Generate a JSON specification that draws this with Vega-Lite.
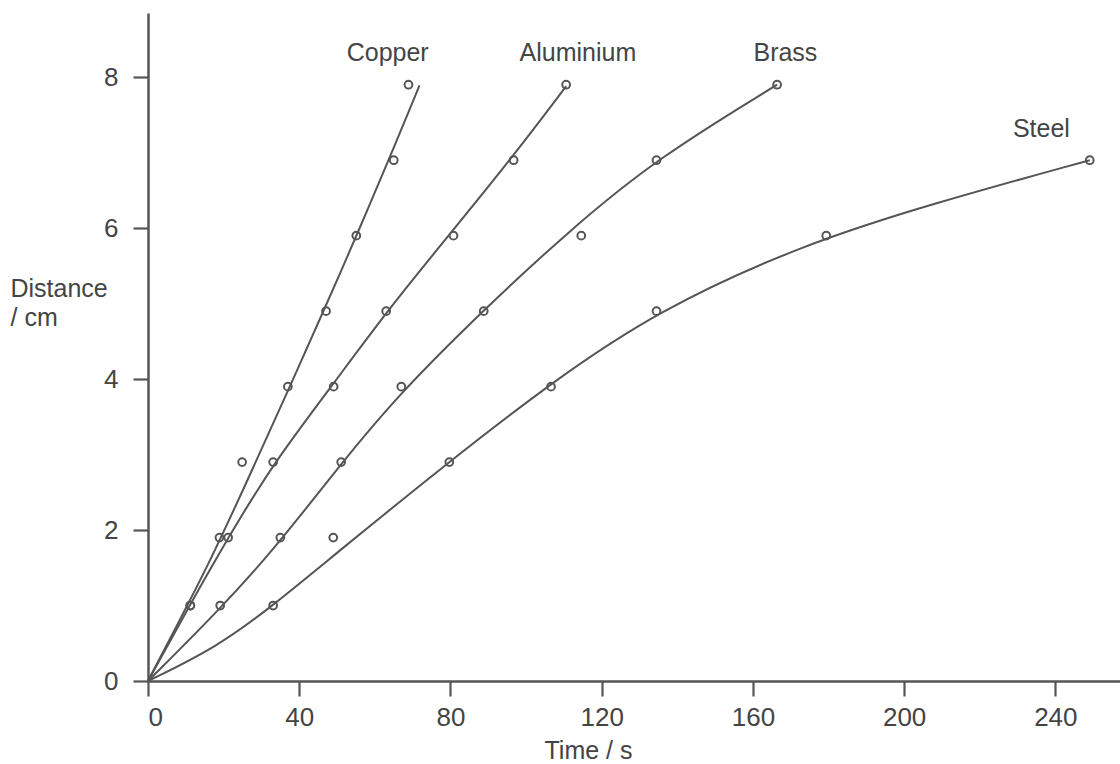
{
  "$schema": "https://vega.github.io/schema/vega-lite/v6.json",
  "width": 972,
  "height": 668,
  "autosize": {"type": "none"},
  "padding": {"left": 148, "top": 13, "right": 0, "bottom": 83},
  "background": "white",
  "config": {
    "view": {"stroke": null},
    "font": "Liberation Sans",
    "axis": {
      "grid": false,
      "domainColor": "#555555",
      "domainWidth": 2.5,
      "tickColor": "#555555",
      "tickWidth": 2.2,
      "tickSize": 15,
      "labelColor": "#444444",
      "labelFont": "Liberation Sans",
      "labelFontSize": 26,
      "titleColor": "#444444",
      "titleFont": "Liberation Sans",
      "titleFontSize": 25,
      "titleFontWeight": "normal"
    }
  },
  "datasets": {
    "points": [
      {"metal": "Copper", "t": 11.2, "d": 1.0},
      {"metal": "Copper", "t": 18.9, "d": 1.9},
      {"metal": "Copper", "t": 24.9, "d": 2.9},
      {"metal": "Copper", "t": 37.0, "d": 3.9},
      {"metal": "Copper", "t": 47.1, "d": 4.9},
      {"metal": "Copper", "t": 55.1, "d": 5.9},
      {"metal": "Copper", "t": 65.0, "d": 6.9},
      {"metal": "Copper", "t": 68.9, "d": 7.9},
      {"metal": "Aluminium", "t": 11.2, "d": 1.0},
      {"metal": "Aluminium", "t": 21.2, "d": 1.9},
      {"metal": "Aluminium", "t": 33.1, "d": 2.9},
      {"metal": "Aluminium", "t": 49.1, "d": 3.9},
      {"metal": "Aluminium", "t": 63.0, "d": 4.9},
      {"metal": "Aluminium", "t": 80.8, "d": 5.9},
      {"metal": "Aluminium", "t": 96.7, "d": 6.9},
      {"metal": "Aluminium", "t": 110.6, "d": 7.9},
      {"metal": "Brass", "t": 19.1, "d": 1.0},
      {"metal": "Brass", "t": 35.0, "d": 1.9},
      {"metal": "Brass", "t": 51.1, "d": 2.9},
      {"metal": "Brass", "t": 67.0, "d": 3.9},
      {"metal": "Brass", "t": 88.8, "d": 4.9},
      {"metal": "Brass", "t": 114.6, "d": 5.9},
      {"metal": "Brass", "t": 134.5, "d": 6.9},
      {"metal": "Brass", "t": 166.4, "d": 7.9},
      {"metal": "Steel", "t": 33.1, "d": 1.0},
      {"metal": "Steel", "t": 49.0, "d": 1.9},
      {"metal": "Steel", "t": 79.7, "d": 2.9},
      {"metal": "Steel", "t": 106.6, "d": 3.9},
      {"metal": "Steel", "t": 134.5, "d": 4.9},
      {"metal": "Steel", "t": 179.4, "d": 5.9},
      {"metal": "Steel", "t": 249.1, "d": 6.9}
    ],
    "curves": [
      {"metal": "Copper", "t": 0, "d": 0},
      {"metal": "Copper", "t": 10.7, "d": 1.03},
      {"metal": "Copper", "t": 16.5, "d": 1.6},
      {"metal": "Copper", "t": 25.8, "d": 2.6},
      {"metal": "Copper", "t": 35.9, "d": 3.72},
      {"metal": "Copper", "t": 46.6, "d": 4.92},
      {"metal": "Copper", "t": 55.6, "d": 5.95},
      {"metal": "Copper", "t": 65.9, "d": 7.17},
      {"metal": "Copper", "t": 71.8, "d": 7.89},
      {"metal": "Aluminium", "t": 0, "d": 0},
      {"metal": "Aluminium", "t": 11.0, "d": 1.0},
      {"metal": "Aluminium", "t": 21.2, "d": 1.9},
      {"metal": "Aluminium", "t": 33.1, "d": 2.88},
      {"metal": "Aluminium", "t": 48.5, "d": 3.9},
      {"metal": "Aluminium", "t": 63.5, "d": 4.92},
      {"metal": "Aluminium", "t": 80.8, "d": 5.98},
      {"metal": "Aluminium", "t": 96.7, "d": 6.96},
      {"metal": "Aluminium", "t": 110.6, "d": 7.88},
      {"metal": "Brass", "t": 0, "d": 0},
      {"metal": "Brass", "t": 18.0, "d": 0.9},
      {"metal": "Brass", "t": 33.0, "d": 1.72},
      {"metal": "Brass", "t": 51.1, "d": 2.88},
      {"metal": "Brass", "t": 66.0, "d": 3.78},
      {"metal": "Brass", "t": 88.8, "d": 4.92},
      {"metal": "Brass", "t": 111.5, "d": 5.97},
      {"metal": "Brass", "t": 134.5, "d": 6.92},
      {"metal": "Brass", "t": 166.4, "d": 7.9},
      {"metal": "Steel", "t": 0, "d": 0},
      {"metal": "Steel", "t": 18.3, "d": 0.45},
      {"metal": "Steel", "t": 33.1, "d": 1.0},
      {"metal": "Steel", "t": 50.0, "d": 1.7},
      {"metal": "Steel", "t": 80.0, "d": 2.92},
      {"metal": "Steel", "t": 106.6, "d": 3.95},
      {"metal": "Steel", "t": 134.5, "d": 4.9},
      {"metal": "Steel", "t": 172.5, "d": 5.77},
      {"metal": "Steel", "t": 207.8, "d": 6.33},
      {"metal": "Steel", "t": 249.1, "d": 6.9}
    ],
    "labels": [
      {"metal": "Copper", "t": 63.4, "d": 8.21},
      {"metal": "Aluminium", "t": 113.7, "d": 8.21},
      {"metal": "Brass", "t": 168.6, "d": 8.21},
      {"metal": "Steel", "t": 236.3, "d": 7.21}
    ]
  },
  "encoding": {
    "x": {
      "field": "t",
      "type": "quantitative",
      "scale": {"domain": [0, 257.1], "nice": false, "zero": false},
      "axis": {
        "values": [0, 40, 80, 120, 160, 200, 240],
        "labelPadding": 8,
        "title": "Time / s",
        "titleX": 440,
        "titleY": 77,
        "titleAlign": "center",
        "titleBaseline": "alphabetic"
      }
    },
    "y": {
      "field": "d",
      "type": "quantitative",
      "scale": {"domain": [0, 8.85], "nice": false, "zero": false},
      "axis": {
        "values": [0, 2, 4, 6, 8],
        "labelPadding": 15,
        "title": ["Distance", "\u2002/ cm"],
        "titleAngle": 0,
        "titleAlign": "left",
        "titleBaseline": "alphabetic",
        "titleX": -138,
        "titleY": 283,
        "titleLineHeight": 29
      }
    }
  },
  "layer": [
    {
      "data": {"name": "curves"},
      "mark": {"type": "line", "interpolate": "basis", "color": "#555555", "strokeWidth": 2},
      "encoding": {"detail": {"field": "metal"}, "order": {"field": "t"}}
    },
    {
      "data": {"name": "points"},
      "mark": {"type": "point", "shape": "circle", "filled": false, "size": 60, "strokeWidth": 2, "color": "#555555", "opacity": 1}
    },
    {
      "data": {"name": "labels"},
      "mark": {"type": "text", "font": "Liberation Sans", "fontSize": 25, "color": "#444444", "align": "center", "baseline": "alphabetic"},
      "encoding": {"text": {"field": "metal"}}
    }
  ]
}
